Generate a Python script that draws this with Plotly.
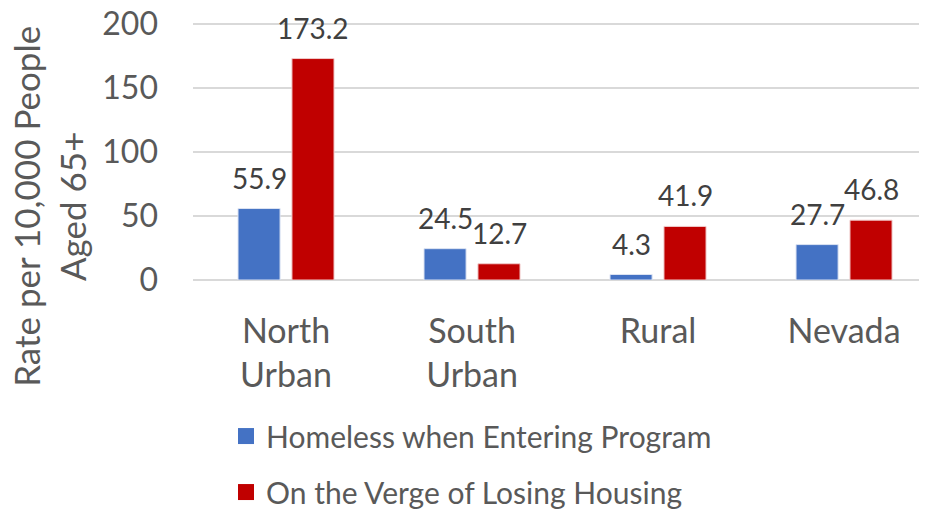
import plotly.graph_objects as go

categories = ["North<br>Urban", "South<br>Urban", "Rural", "Nevada"]
homeless = [55.9, 24.5, 4.3, 27.7]
verge = [173.2, 12.7, 41.9, 46.8]
homeless_labels = ["55.9", "24.5", "4.3", "27.7"]
verge_labels = ["173.2", "12.7", "41.9", "46.8"]
series_names = ["Homeless when Entering Program", "On the Verge of Losing Housing"]
series_colors = ["#4472C4", "#C00000"]
y_ticks = [0, 50, 100, 150, 200]
y_title = "Rate per 10,000 People<br>Aged 65+"

FONT = "Lato"
TXT = "#595959"
LBL = "#404040"

fig = go.Figure()
fig.add_trace(go.Bar(
    x=categories, y=homeless, name=series_names[0], showlegend=False,
    marker=dict(color=series_colors[0], line=dict(color="#DCE3F2", width=1)),
))
fig.add_trace(go.Bar(
    x=categories, y=verge, name=series_names[1], showlegend=False,
    marker=dict(color=series_colors[1], line=dict(color="#F0CCCC", width=1)),
))
# legend entries (square swatches)
for i, (nm, col) in enumerate(zip(series_names, series_colors)):
    fig.add_trace(go.Scatter(
        x=[None], y=[None], mode="markers", name=nm, legendgroup=f"g{i}",
        marker=dict(symbol="square", size=16, color=col),
    ))

# data labels
annotations = []
for vals, labs, shift in [(homeless, homeless_labels, -27), (verge, verge_labels, 27)]:
    for c, v, t in zip(categories, vals, labs):
        annotations.append(dict(
            x=c, y=v, xref="x", yref="y", text=t, showarrow=False,
            xanchor="center", yanchor="bottom", xshift=shift, yshift=12,
            font=dict(family=FONT, size=28, color=LBL),
        ))
annotations.append(dict(
    text=y_title, xref="paper", yref="paper", x=-0.194, y=0.285,
    xanchor="center", yanchor="middle", textangle=-90, showarrow=False,
    font=dict(family=FONT, size=35, color=TXT),
))

fig.update_layout(
    width=927, height=514,
    margin=dict(l=185, r=0, t=15, b=242, autoexpand=False),
    paper_bgcolor="white", plot_bgcolor="white",
    barmode="group", bargap=0.42, bargroupgap=0.22,
    font=dict(family=FONT, size=30, color=TXT),
    showlegend=True,
    legend=dict(x=0.0445, y=-0.506, xanchor="left", yanchor="top",
                font=dict(family=FONT, size=30, color=TXT),
                tracegroupgap=14, traceorder="grouped", bgcolor="rgba(0,0,0,0)"),
    annotations=annotations,
)
fig.update_xaxes(range=[-0.5, 3.489], showgrid=False, showline=False, ticks="",
                 automargin=False, ticklabelstandoff=28, tickangle=0,
                 tickfont=dict(family=FONT, size=34, color=TXT))
fig.update_yaxes(range=[0, 201], tickvals=y_ticks, showgrid=True,
                 gridcolor="#D9D9D9", gridwidth=1.5,
                 zeroline=True, zerolinecolor="#D9D9D9", zerolinewidth=1.5, showline=False,
                 ticks="", ticklabelstandoff=34, automargin=False, ticklabeloverflow="allow",
                 tickfont=dict(family=FONT, size=32, color=TXT))

fig.write_html("out.html")
